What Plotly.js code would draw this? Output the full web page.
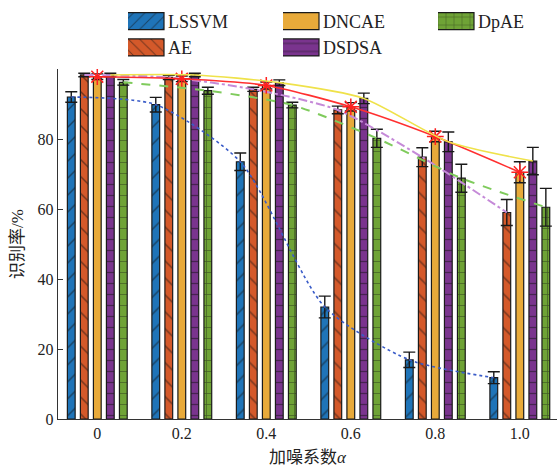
<!DOCTYPE html>
<html>
<head>
<meta charset="utf-8">
<script src="https://cdn.plot.ly/plotly-3.0.1.min.js"></script>
<style>
  html, body { margin: 0; padding: 0; background: #fff; }
  #chart { width: 558px; height: 467px; }
</style>
</head>
<body>
<div id="chart"></div>
<script>
// ---- data ----
const noiseLabels = ['0', '0.2', '0.4', '0.6', '0.8', '1.0'];
const methods = ['LSSVM', 'AE', 'DNCAE', 'DSDSA', 'DpAE'];

const lssvm    = [92.0, 89.8, 73.5, 32.0, 16.9, 11.8];
const lssvmErr = [1.5, 2.1, 2.5, 3.1, 2.2, 1.7];
const ae       = [98.3, 97.6, 94.2, 88.3, 74.8, 59.0];
const aeErr    = [0.5, 0.6, 0.6, 1.1, 2.7, 3.7];
const dncae    = [97.8, 97.2, 95.3, 89.2, 80.7, 70.5];
const dncaeErr = [0.8, 0.8, 1.0, 1.2, 1.5, 3.0];
const dsdsa    = [98.3, 98.3, 96.1, 91.6, 79.2, 73.7];
const dsdsaErr = [0.5, 0.5, 0.8, 1.5, 2.8, 3.9];
const dpae     = [96.2, 93.8, 89.7, 80.2, 68.8, 60.5];
const dpaeErr  = [0.8, 1.0, 0.8, 2.6, 4.0, 5.4];

// ---- styling ----
const serif = '"Liberation Serif", "Times New Roman", "Noto Sans CJK SC", serif';
const barColors = ['#1f74b8', '#d4592a', '#e8aa3a', '#7a348e', '#6fa336'];
const patterns  = [
  {shape: '/',  size: 12, solidity: 0.12},
  {shape: '\\', size: 12, solidity: 0.12},
  {shape: '',   size: 8,  solidity: 0.2},
  {shape: '-',  size: 11, solidity: 0.12},
  {shape: '+',  size: 11, solidity: 0.12}
];
// legend column of each method (reference legend: 3 columns)
const legendOf = ['legend', 'legend', 'legend2', 'legend2', 'legend3'];
const lineStyles = [
  {color: '#3a5cc8', dash: 'dot',     width: 1.6},
  {color: '#c58ad8', dash: 'dashdot', width: 2.0},
  {color: '#ff3030', dash: 'solid',   width: 1.6},
  {color: '#efe24a', dash: 'solid',   width: 1.6},
  {color: '#7fcb5c', dash: 'dash',    width: 2.0}
];
const slot = 0.154, barW = 0.092;

const values = [lssvm, ae, dncae, dsdsa, dpae];
const errors = [lssvmErr, aeErr, dncaeErr, dsdsaErr, dpaeErr];
const xIdx = noiseLabels.map((_, i) => i);

const traces = [];
methods.forEach((name, k) => {
  const shift = (k - 2) * slot;
  traces.push({
    type: 'bar',
    name: name,
    x: xIdx,
    y: values[k],
    offset: shift - barW / 2,
    width: barW,
    legend: legendOf[k],
    marker: {
      color: barColors[k],
      line: {color: '#1a1a1a', width: 1.2},
      pattern: {
        shape: patterns[k].shape,
        size: patterns[k].size,
        solidity: patterns[k].solidity,
        fgcolor: '#111',
        bgcolor: barColors[k],
        fillmode: 'overlay'
      }
    },
    error_y: {type: 'data', array: errors[k], visible: true,
              color: '#1a1a1a', thickness: 1.4, width: 6},
    hoverinfo: 'skip'
  });
});
methods.forEach((name, k) => {
  const shift = (k - 2) * slot;
  const t = {
    type: 'scatter',
    mode: 'lines',
    x: xIdx.map(v => v + shift),
    y: values[k],
    line: {color: lineStyles[k].color, dash: lineStyles[k].dash,
           width: lineStyles[k].width, shape: 'spline', smoothing: 0.7},
    showlegend: false,
    hoverinfo: 'skip'
  };
  if (name === 'DNCAE') {
    t.mode = 'lines+markers';
    t.marker = {symbol: 'asterisk-open', size: 14,
                line: {color: '#ff2020', width: 1.5}, color: '#ff2020'};
  }
  traces.push(t);
});

const legendBase = {
  orientation: 'v',
  xanchor: 'left',
  y: 1.189, yanchor: 'top',
  font: {family: serif, size: 18, color: '#222'},
  bgcolor: 'rgba(0,0,0,0)',
  borderwidth: 0,
  traceorder: 'normal',
  tracegroupgap: 0
};

const layout = {
  width: 558, height: 467,
  margin: {l: 58, r: 1, t: 69, b: 48},
  paper_bgcolor: '#fff', plot_bgcolor: '#fff',
  barmode: 'overlay',
  font: {family: serif, size: 16, color: '#222'},
  xaxis: {
    range: [-0.465, 5.44],
    tickvals: xIdx, ticktext: noiseLabels,
    showgrid: false, zeroline: false,
    showline: true, linecolor: '#333', linewidth: 1.2,
    ticks: '',
    tickfont: {family: serif, size: 16, color: '#222'},
    title: {text: '加噪系数<i>α</i>', font: {family: serif, size: 17, color: '#222'}, standoff: 10}
  },
  yaxis: {
    range: [0, 100],
    tickvals: [0, 20, 40, 60, 80],
    showgrid: false, zeroline: false,
    showline: true, linecolor: '#333', linewidth: 1.2,
    ticks: 'inside', ticklen: 5, tickcolor: '#333',
    tickfont: {family: serif, size: 16, color: '#222'},
    title: {text: '识别率/%', font: {family: serif, size: 17, color: '#222'}, standoff: 9}
  },
  legend:  Object.assign({}, legendBase, {x: (128 - 58) / 499}),
  legend2: Object.assign({}, legendBase, {x: (283 - 58) / 499}),
  legend3: Object.assign({}, legendBase, {x: (438 - 58) / 499}),
  showlegend: true
};

// Legend swatches: long rectangles ending just before the label
// (in the swatch's own frame the label starts at +20 px).
const WIDE_D = 'M16,8.5H-58V-8.5H16Z';
function widenSwatches(root) {
  root.querySelectorAll('g.legendpoints path').forEach(path => {
    if (path.getAttribute('d') !== WIDE_D) path.setAttribute('d', WIDE_D);
  });
}

const chartDiv = document.getElementById('chart');
const observer = new MutationObserver(() => widenSwatches(chartDiv));
observer.observe(chartDiv, {childList: true, subtree: true, attributes: true, attributeFilter: ['d']});

Plotly.newPlot(chartDiv, traces, layout, {displayModeBar: false, staticPlot: true}).then(gd => {
  widenSwatches(gd);
});
</script>
</body>
</html>
